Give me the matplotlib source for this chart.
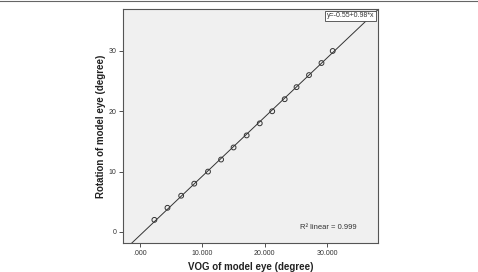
import numpy as np
import matplotlib.pyplot as plt
from matplotlib.lines import Line2D

# ----------------------------
# Data
# ----------------------------
vog = [2.3, 4.4, 6.6, 8.7, 10.9, 13.0, 15.0, 17.1, 19.2, 21.2, 23.2, 25.1, 27.1, 29.1, 30.9]
rotation = [2, 4, 6, 8, 10, 12, 14, 16, 18, 20, 22, 24, 26, 28, 30]
intercept = -0.55
slope = 0.98
r2_text = "R² linear = 0.999"
eq_text = "y=-0.55+0.98*x"
x_ticks = [0, 10, 20, 30]
x_tick_labels = [".000", "10.000", "20.000", "30.000"]
y_ticks = [0, 10, 20, 30]

plt.rcParams['font.family'] = ['Liberation Sans', 'DejaVu Sans']

fig = plt.figure(figsize=(4.78, 2.72), dpi=100)
ax = fig.add_axes([0.258, 0.105, 0.533, 0.862])
ax.set_facecolor('#f0f0f0')

xlim = (-2.68, 38.18)
ylim = (-1.91, 36.96)
ax.set_xlim(*xlim)
ax.set_ylim(*ylim)

# fit line, clipped by the axes
fx = np.array([-5, 45])
ax.plot(fx, intercept + slope * fx, color='#333333', lw=0.7, zorder=2)

ax.scatter(vog, rotation, s=12, facecolors='none', edgecolors='#333333',
           linewidths=0.7, zorder=3)

ax.set_xticks(x_ticks)
ax.set_xticklabels(x_tick_labels)
ax.set_yticks(y_ticks)
ax.tick_params(labelsize=5, colors='#333333', length=3, width=0.6, pad=2)

for sp in ax.spines.values():
    sp.set_color('#555555')
    sp.set_linewidth(0.8)

ax.set_xlabel("VOG of model eye (degree)", fontsize=7, fontweight='bold',
              color='#222222', labelpad=3)
ax.set_ylabel("Rotation of model eye (degree)", fontsize=7, fontweight='bold',
              color='#222222', labelpad=2)

ax.text(0.985, 0.985, eq_text, transform=ax.transAxes, ha='right', va='top',
        fontsize=5, color='#333333', zorder=5,
        bbox=dict(boxstyle='square,pad=0.25', facecolor='white',
                  edgecolor='#444444', linewidth=0.6))
ax.text(0.915, 0.07, r2_text, transform=ax.transAxes, ha='right', va='center',
        fontsize=5.5, color='#333333')

# frame line at top of the figure
fig.add_artist(Line2D([0.0, 0.998], [0.995, 0.995], color='#666666', lw=0.8,
                      transform=fig.transFigure))

fig.savefig('out.png', dpi=100)
